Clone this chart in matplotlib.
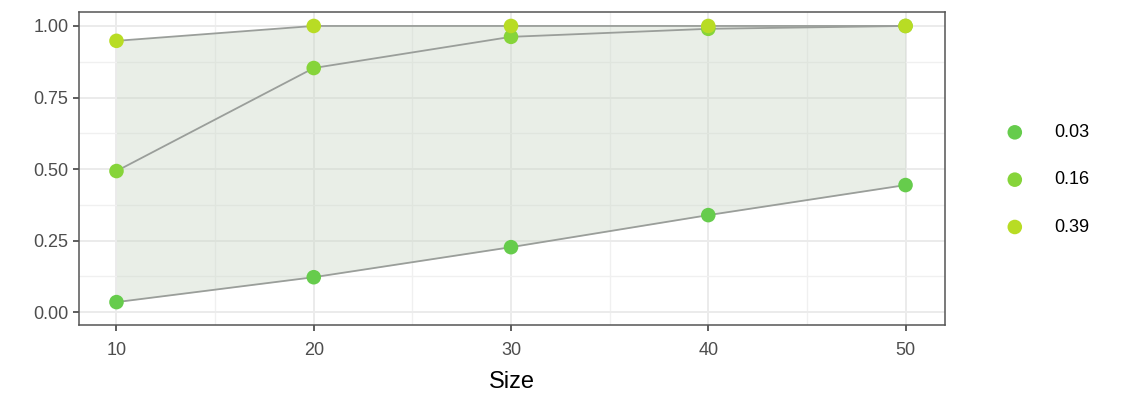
import matplotlib.pyplot as plt
from matplotlib.ticker import MultipleLocator

plt.rcParams['font.family'] = ['Liberation Sans', 'DejaVu Sans']

sizes = [10, 20, 30, 40, 50]
groups = ['0.03', '0.16', '0.39']
power_003 = [0.035, 0.122, 0.227, 0.339, 0.444]
power_016 = [0.493, 0.853, 0.962, 0.990, 1.000]
power_039 = [0.948, 1.000, 1.000, 1.000, 1.000]
colors = ['#66cc4c', '#86d43a', '#b8dc24']

fig = plt.figure(figsize=(11.27, 3.98), dpi=100)
ax = fig.add_axes([0.0701, 0.1834, 0.7684, 0.7866])

# ribbon between lowest and highest curve
ax.fill_between(sizes, power_003, power_039, color='#c9d6c5', alpha=0.4, zorder=1, lw=0)

for vals, lab, c in zip([power_003, power_016, power_039], groups, colors):
    ax.plot(sizes, vals, color='#9a9e9a', lw=1.3, zorder=2)
    ax.scatter(sizes, vals, s=110, color=c, label=lab, zorder=3, edgecolors='none')

ax.set_xlim(8.1, 52)
ax.set_ylim(-0.045, 1.049)
ax.xaxis.set_major_locator(MultipleLocator(10))
ax.xaxis.set_minor_locator(MultipleLocator(5))
ax.yaxis.set_major_locator(MultipleLocator(0.25))
ax.yaxis.set_minor_locator(MultipleLocator(0.125))
ax.yaxis.set_major_formatter(plt.FuncFormatter(lambda v, p: f'{v:.2f}'))
ax.grid(which='major', color='#ebebeb', lw=1.4, zorder=0)
ax.grid(which='minor', color='#f0f0f0', lw=1.0, zorder=0)
ax.set_axisbelow(True)
ax.tick_params(which='major', labelsize=13, labelcolor='#4d4d4d', color='#333333', length=4, width=1.1)
ax.tick_params(axis='x', which='major', pad=8)
ax.tick_params(which='minor', length=0)
for sp in ax.spines.values():
    sp.set_color('#555555')
    sp.set_linewidth(1.1)
ax.set_xlabel('Size', fontsize=17, color='black', labelpad=9)

fig.legend(loc='center left', bbox_to_anchor=(0.870, 0.548), frameon=False, fontsize=13,
           handletextpad=1.2, labelspacing=1.68, markerscale=1.0)

fig.savefig('out.png', dpi=100)
